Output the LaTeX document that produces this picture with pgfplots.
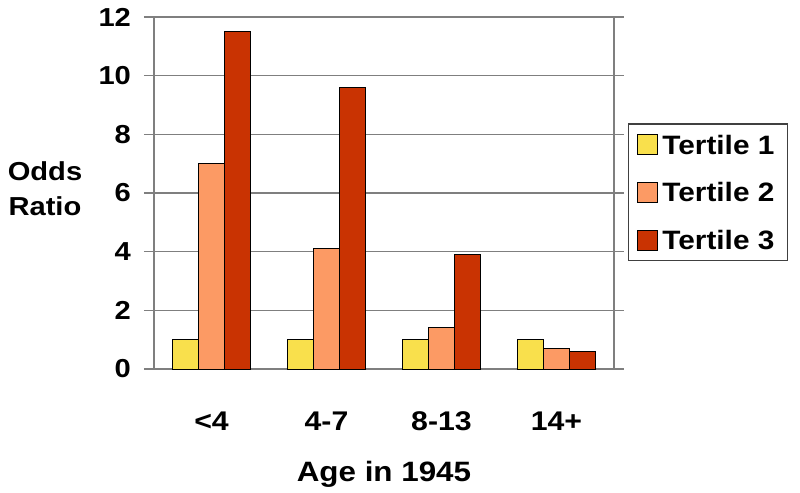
\documentclass[border=0pt]{standalone}
\usepackage{fontspec}
\setmainfont{Liberation Sans}[FakeStretch=1.12]
\usepackage{pgfplots}
\pgfplotsset{compat=1.18}
\definecolor{tone1}{HTML}{F9E04C}
\definecolor{tone2}{HTML}{FC9A64}
\definecolor{tone3}{HTML}{C93302}
\definecolor{axisgray}{HTML}{7F7F7F}

\begin{document}
\begin{tikzpicture}
\path[use as bounding box] (-77pt,-62pt) rectangle (323pt,184.5pt);
\begin{axis}[
  at={(0,0)}, anchor=south west,
  scale only axis, width=230pt, height=176pt,
  ybar=0pt, bar width=12.85pt,
  xmin=-0.5, xmax=3.5, ymin=0, ymax=12,
  xtick={0,1,2,3}, xticklabels={<4,4-7,8-13,14+},
  x tick style={draw=none},
  extra x ticks={-0.5,0.5,1.5,2.5,3.5}, extra x tick labels={},
  extra x tick style={tick align=outside, major tick length=5.5pt,
    tick style={draw=axisgray, line width=0.7pt}},
  ytick={0,2,...,12}, tick align=outside, major tick length=5pt,
  y tick style={draw=axisgray, line width=0.7pt},
  ymajorgrids, grid style={axisgray, line width=0.7pt},
  axis line style={axisgray, line width=0.7pt},
  /pgf/number format/assume math mode=true,
  yticklabel style={font=\fontsize{13}{15}\selectfont\bfseries, xshift=-3pt},
  xticklabel style={font=\fontsize{13.5}{16}\selectfont\bfseries, yshift=-13pt},
  xlabel={Age in 1945},
  xlabel style={font=\fontsize{14}{17}\selectfont\bfseries, at={(axis description cs:0.5,-0.321)}, anchor=base},
  ylabel={Odds\\Ratio},
  ylabel style={font=\fontsize{13}{17.5}\selectfont\bfseries, rotate=-90, align=center,
    at={(axis description cs:-0.237,0.511)}, anchor=center},
  legend style={at={(1.030,0.698)}, anchor=north west, draw=black!75, line width=0.6pt,
    font=\fontsize{13.3}{15}\selectfont\bfseries, legend cell align=left,
    inner xsep=4.5pt, inner ysep=3.5pt, row sep=10.25pt,
    nodes={text depth=0pt},
    /tikz/every even column/.append style={column sep=4pt}},
  legend image code/.code={\draw[#1,draw=black,line width=0.5pt] (0pt,-5pt) rectangle (10pt,5pt);},
]
\addplot[fill=tone1, draw=black, line width=0.5pt] coordinates {(0,1.0)(1,1.0)(2,1.0)(3,1.0)};
\addlegendentry{Tertile 1}
\addplot[fill=tone2, draw=black, line width=0.5pt] coordinates {(0,7.0)(1,4.1)(2,1.4)(3,0.7)};
\addlegendentry{Tertile 2}
\addplot[fill=tone3, draw=black, line width=0.5pt] coordinates {(0,11.52)(1,9.59)(2,3.9)(3,0.61)};
\addlegendentry{Tertile 3}
\end{axis}
\end{tikzpicture}
\end{document}
